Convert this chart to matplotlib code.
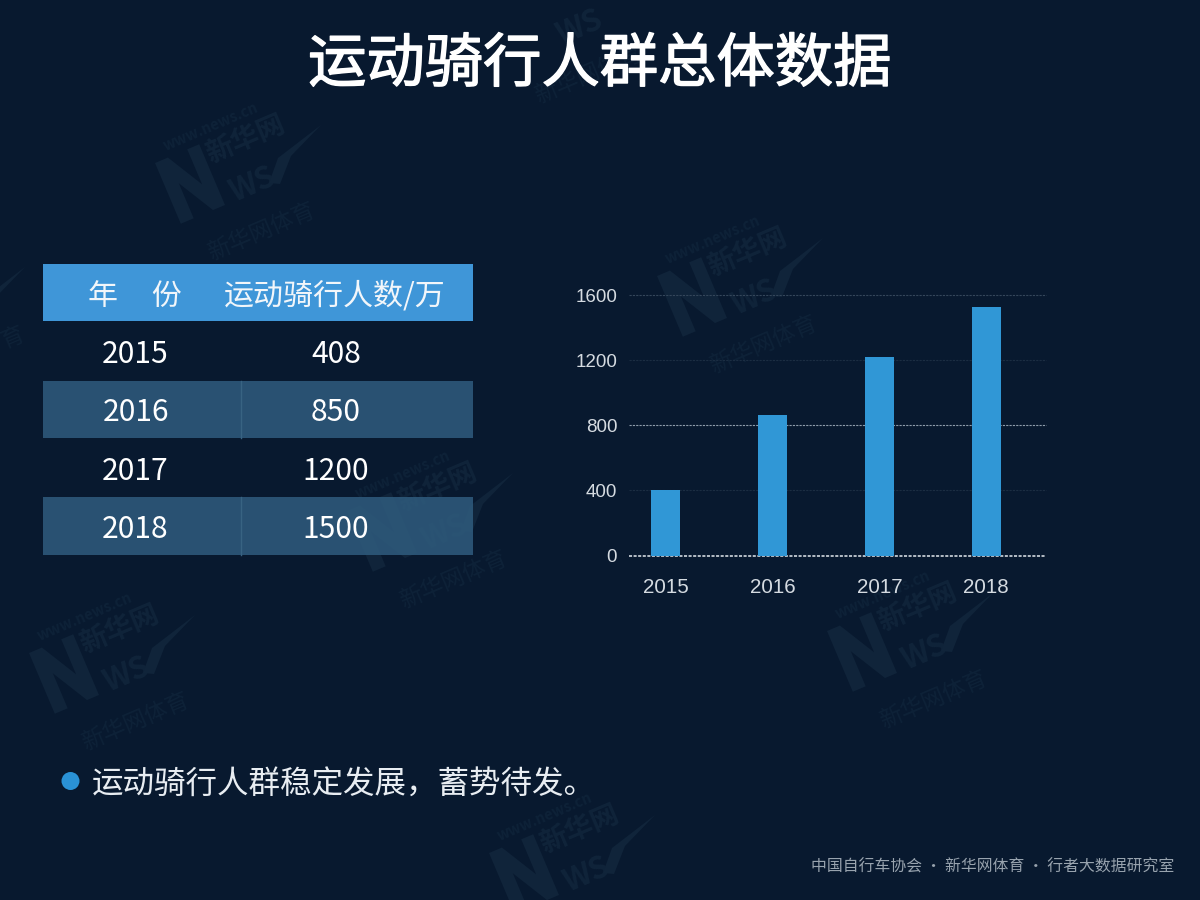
import numpy as np
import matplotlib
matplotlib.use("Agg")
import matplotlib.pyplot as plt
import matplotlib.patheffects as pe
from matplotlib.patches import Rectangle, Circle, Polygon

plt.rcParams['font.family'] = ['Noto Sans CJK SC', 'DejaVu Sans']

# ---- data ----
title = "运动骑行人群总体数据"
table_header = ["年     份", "运动骑行人数/万"]
table_years = ["2015", "2016", "2017", "2018"]
table_values = ["408", "850", "1200", "1500"]
bar_years = ["2015", "2016", "2017", "2018"]
bar_values = [405, 862, 1218, 1528]
y_ticks = [0, 400, 800, 1200, 1600]
note = "运动骑行人群稳定发展，蓄势待发。"
source = "中国自行车协会 · 新华网体育 · 行者大数据研究室"

BG = "#08192f"
fig = plt.figure(figsize=(12, 9), dpi=100, facecolor=BG)

# page layer in pixel units
page = fig.add_axes([0, 0, 1, 1], zorder=0)
page.set_xlim(0, 1200)
page.set_ylim(900, 0)
page.axis("off")

# ---- watermark stamps ----
WM = "#10243a"
WM_T = "#0e2238"
ROT = 23
ang = np.deg2rad(ROT)
N_SHAPE = [(-24, 33), (-24, -33), (-10, -33), (11, 5), (11, -33), (24, -33),
           (24, 33), (11, 33), (-10, -5), (-10, 33)]
SWOOSH = [(33, 5), (42, -20), (85, -53), (55, -22), (44, 6)]

def wm_text(cx, cy, dx, dy, s, size, color, weight="normal"):
    page.text(cx + dx, cy + dy, s, color=color, fontsize=size, rotation=ROT,
              rotation_mode="anchor", ha="center", va="center", fontweight=weight, zorder=1)

def stamp(cx, cy, web=True, mark=True, name=True, ews=True, sub=True, swoosh=True):
    if mark:
        pts = [(cx - 46 + x*np.cos(ang) + y*np.sin(ang), cy + 6 - x*np.sin(ang) + y*np.cos(ang))
               for x, y in N_SHAPE]
        page.add_patch(Polygon(pts, closed=True, fc=WM, ec="none", zorder=1))
    if web:
        wm_text(cx, cy, -25, -52, "www.news.cn", 10.5, WM_T, "bold")
    if name:
        wm_text(cx, cy, 10, -38, "新华网", 20, WM, "bold")
    if ews:
        wm_text(cx, cy, 17, 7, "WS", 22, WM, "bold")
    if sub:
        wm_text(cx, cy, 25, 54, "新华网体育", 16.5, WM_T)
    if swoosh:
        page.add_patch(Polygon([(cx + x, cy + y) for x, y in SWOOSH], closed=True, fc=WM, ec="none", zorder=1))

for c in [(236, 178), (738, 291), (428, 526), (110, 668), (908, 646)]:
    stamp(*c)
stamp(570, 868, sub=False)                                    # runs off the bottom
stamp(563, 21, web=False, mark=False, name=False, swoosh=False)  # runs off the top
stamp(-60, 320, web=False, mark=False, name=False, ews=False, sub=False)  # runs off the left
wm_text(0, 0, 13, 338, "育", 16.5, WM_T)

# title
page.text(600, 65, title, color="white", fontsize=42, ha="center", va="center", zorder=5,
          path_effects=[pe.withStroke(linewidth=1.0, foreground="white")])

# ---- table ----
tx0, tx1, tdiv = 43, 473, 241
c1, c2 = 135.5, 336
rh = 58.2
page.add_patch(Rectangle((tx0, 264), tx1 - tx0, 57, fc="#3f96d8", ec="none", zorder=2))
page.text(135, 296, table_header[0], color="#f2f6fa", fontsize=21.6, ha="center", va="center", zorder=3)
page.text(334.5, 296, table_header[1], color="#f2f6fa", fontsize=21.6, ha="center", va="center", zorder=3)
for i, (yr, val) in enumerate(zip(table_years, table_values)):
    top = 322.5 + i * rh
    mid = top + rh / 2 + 3
    if i % 2 == 1:
        page.add_patch(Rectangle((tx0, top), tx1 - tx0, rh - 0.5, fc="#2e5a7c", alpha=0.88, ec="none", zorder=2))
        page.plot([tdiv, tdiv], [top, top + rh - 0.5], color="#386382", lw=1, zorder=2.5)
    page.text(c1, mid, yr, color="white", fontsize=21.6, ha="center", va="center", zorder=3)
    page.text(c2, mid, val, color="white", fontsize=21.6, ha="center", va="center", zorder=3)

# bullet note and source
page.add_patch(Circle((70.5, 781), 9, fc="#2a92d6", ec="none", zorder=3))
page.text(92, 785, note, color="#e8edf2", fontsize=22.7, ha="left", va="center", zorder=3)
page.text(1174, 867, source, color="#98a3ae", fontsize=11.4, ha="right", va="center", zorder=3)

# ---- bar chart ----
ax = fig.add_axes([629/1200, 1 - 555.6/900, (1046-629)/1200, (555.6-295)/900], zorder=1)
ax.patch.set_alpha(0)
x = np.arange(len(bar_years))
ax.set_xlim(-0.346, 3.56)
ax.set_ylim(0, 1600)
grid_styles = {0: ("#e4e9ee", 1.1), 400: ("#1b2d42", 0.8), 800: ("#8e9cab", 0.8),
               1200: ("#1b2d42", 0.8), 1600: ("#34465a", 0.8)}
for t in y_ticks:
    col, lw = grid_styles[t]
    ax.axhline(t, color=col, lw=lw, ls=(0, (2, 1)), zorder=1, clip_on=False)
ax.bar(x, bar_values, width=0.272, color="#3097d6", zorder=2)
ax.set_xticks(x, bar_years)
ax.set_yticks(y_ticks, [str(t) for t in y_ticks])
for lab in ax.get_xticklabels():
    lab.set_family(["Liberation Sans", "DejaVu Sans"])
    lab.set_fontsize(14.8)
    lab.set_color("#d5dbe1")
for lab in ax.get_yticklabels():
    lab.set_family(["Liberation Sans", "DejaVu Sans"])
    lab.set_fontsize(13.5)
    lab.set_color("#d5dbe1")
ax.tick_params(axis="x", length=0, pad=16)
ax.tick_params(axis="y", length=0, pad=8.5)
for s in ax.spines.values():
    s.set_visible(False)

fig.savefig("out.png", dpi=100, facecolor=BG)
